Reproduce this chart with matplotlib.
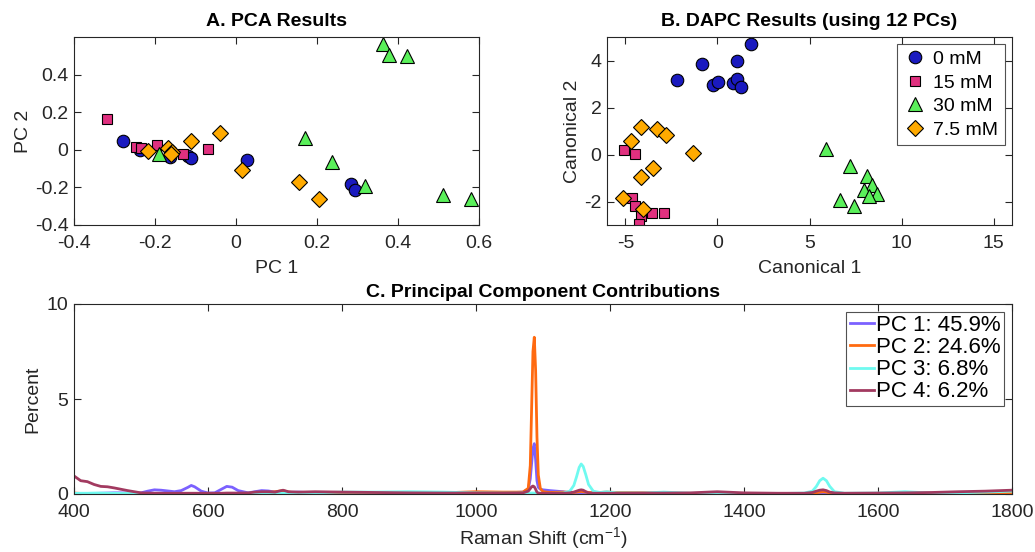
import matplotlib
matplotlib.use("Agg")
import matplotlib.pyplot as plt

plt.rcParams['font.family'] = ['Liberation Sans', 'DejaVu Sans']
plt.rcParams['axes.unicode_minus'] = False
plt.rcParams['mathtext.default'] = 'regular'

# ---------------- Data ----------------
groups = ['0 mM', '15 mM', '30 mM', '7.5 mM']

# Panel A: PCA scores
pca_0_x = [-0.279, -0.236, -0.164, -0.118, -0.111, 0.026, 0.283, 0.294]
pca_0_y = [0.046, -0.002, -0.039, -0.034, -0.042, -0.052, -0.182, -0.216]
pca_15_x = [-0.318, -0.248, -0.234, -0.196, -0.131, -0.070]
pca_15_y = [0.163, 0.014, 0.011, 0.025, -0.025, 0.002]
pca_30_x = [-0.191, 0.171, 0.236, 0.319, 0.362, 0.378, 0.423, 0.511, 0.580]
pca_30_y = [-0.024, 0.064, -0.066, -0.194, 0.562, 0.503, 0.499, -0.240, -0.262]
pca_75_x = [-0.218, -0.168, -0.158, -0.161, -0.110, -0.039, 0.014, 0.156, 0.206]
pca_75_y = [-0.007, 0.011, -0.011, -0.023, 0.048, 0.088, -0.109, -0.171, -0.263]

# Panel B: DAPC scores
dapc_0_x = [-2.22, -0.82, -0.22, 0.02, 0.86, 1.06, 1.06, 1.28, 1.84]
dapc_0_y = [3.19, 3.83, 2.96, 3.10, 3.06, 3.21, 4.00, 2.87, 4.70]
dapc_15_x = [-5.06, -4.48, -4.66, -4.48, -4.17, -4.28, -3.53, -2.93]
dapc_15_y = [0.20, 0.03, -1.83, -2.19, -2.61, -2.96, -2.51, -2.51]
dapc_30_x = [5.90, 7.19, 8.12, 8.40, 8.65, 7.94, 8.25, 6.63, 7.43]
dapc_30_y = [0.25, -0.51, -0.91, -1.28, -1.68, -1.51, -1.78, -1.94, -2.21]
dapc_75_x = [-4.70, -4.13, -3.28, -2.77, -1.35, -3.52, -4.17, -5.14, -4.06]
dapc_75_y = [0.57, 1.17, 1.07, 0.84, 0.07, -0.59, -0.94, -1.83, -2.31]

# Panel C: principal component contributions
raman_shift = [400, 410, 420, 430, 440, 450, 460, 470, 480, 490,
               500, 510, 520, 530, 540, 550, 560, 570, 575, 580,
               590, 600, 610, 620, 628, 636, 645, 660, 670, 680,
               690, 700, 712, 720, 735, 760, 800, 850, 900, 950,
               1000, 1040, 1070, 1078, 1081, 1083, 1085, 1087, 1089, 1091,
               1093, 1096, 1100, 1110, 1130, 1140, 1146, 1150, 1154, 1157,
               1160, 1164, 1168, 1175, 1185, 1195, 1210, 1250, 1280, 1320,
               1360, 1400, 1450, 1490, 1502, 1508, 1513, 1518, 1523, 1528,
               1535, 1550, 1600, 1640, 1680, 1720, 1760, 1800]
pc1 = [0.03, 0.03, 0.02, 0.03, 0.04, 0.05, 0.06, 0.06, 0.05, 0.04,
       0.06, 0.15, 0.22, 0.20, 0.16, 0.12, 0.18, 0.35, 0.45, 0.38,
       0.15, 0.05, 0.06, 0.25, 0.40, 0.36, 0.18, 0.06, 0.12, 0.18,
       0.16, 0.10, 0.06, 0.08, 0.10, 0.05, 0.03, 0.02, 0.02, 0.02,
       0.03, 0.05, 0.10, 0.25, 0.80, 1.60, 2.40, 2.65, 1.80, 0.70,
       0.35, 0.25, 0.22, 0.18, 0.12, 0.05, 0.04, 0.04, 0.04, 0.05,
       0.05, 0.04, 0.03, 0.03, 0.02, 0.02, 0.02, 0.03, 0.03, 0.03,
       0.05, 0.03, 0.02, 0.02, 0.02, 0.03, 0.04, 0.04, 0.04, 0.03,
       0.02, 0.02, 0.02, 0.02, 0.03, 0.05, 0.07, 0.10]
pc2 = [0.05, 0.03, 0.02, 0.02, 0.02, 0.02, 0.02, 0.02, 0.02, 0.02,
       0.01, 0.01, 0.01, 0.01, 0.01, 0.01, 0.01, 0.01, 0.01, 0.01,
       0.01, 0.01, 0.01, 0.01, 0.02, 0.02, 0.02, 0.03, 0.03, 0.05,
       0.08, 0.12, 0.18, 0.10, 0.05, 0.03, 0.02, 0.03, 0.05, 0.06,
       0.12, 0.10, 0.10, 0.30, 1.50, 4.50, 7.50, 8.25, 6.50, 3.00,
       1.00, 0.30, 0.12, 0.08, 0.10, 0.10, 0.08, 0.10, 0.12, 0.14,
       0.12, 0.10, 0.08, 0.07, 0.08, 0.10, 0.08, 0.06, 0.04, 0.03,
       0.02, 0.02, 0.02, 0.02, 0.03, 0.06, 0.10, 0.12, 0.10, 0.05,
       0.02, 0.02, 0.02, 0.02, 0.02, 0.03, 0.04, 0.05]
pc3 = [0.03, 0.04, 0.04, 0.05, 0.05, 0.04, 0.04, 0.03, 0.03, 0.03,
       0.03, 0.03, 0.02, 0.02, 0.02, 0.02, 0.02, 0.02, 0.02, 0.02,
       0.02, 0.02, 0.02, 0.03, 0.03, 0.03, 0.03, 0.04, 0.05, 0.05,
       0.05, 0.04, 0.03, 0.04, 0.05, 0.06, 0.10, 0.10, 0.12, 0.10,
       0.06, 0.05, 0.05, 0.05, 0.05, 0.05, 0.05, 0.05, 0.05, 0.05,
       0.04, 0.04, 0.03, 0.03, 0.05, 0.15, 0.45, 0.90, 1.40, 1.58,
       1.45, 1.00, 0.50, 0.15, 0.08, 0.12, 0.06, 0.05, 0.10, 0.04,
       0.03, 0.02, 0.02, 0.05, 0.15, 0.40, 0.70, 0.83, 0.70, 0.40,
       0.12, 0.04, 0.05, 0.12, 0.05, 0.06, 0.10, 0.15]
pc4 = [0.95, 0.70, 0.65, 0.50, 0.40, 0.38, 0.32, 0.25, 0.18, 0.12,
       0.06, 0.05, 0.04, 0.04, 0.04, 0.04, 0.04, 0.04, 0.04, 0.04,
       0.04, 0.04, 0.04, 0.04, 0.05, 0.05, 0.05, 0.06, 0.10, 0.12,
       0.12, 0.10, 0.20, 0.12, 0.10, 0.12, 0.10, 0.08, 0.06, 0.05,
       0.05, 0.05, 0.06, 0.15, 0.28, 0.38, 0.42, 0.38, 0.25, 0.10,
       0.05, 0.04, 0.04, 0.04, 0.04, 0.06, 0.10, 0.15, 0.20, 0.22,
       0.20, 0.12, 0.06, 0.04, 0.04, 0.04, 0.04, 0.05, 0.05, 0.06,
       0.12, 0.06, 0.04, 0.04, 0.08, 0.15, 0.20, 0.22, 0.18, 0.10,
       0.06, 0.04, 0.05, 0.06, 0.08, 0.12, 0.15, 0.20]
pc_labels = ['PC 1: 45.9%', 'PC 2: 24.6%', 'PC 3: 6.8%', 'PC 4: 6.2%']

# ---------------- Styles ----------------
grp_colors = ['#1A1ABF', '#E0307F', '#5AF05A', '#FFAA00']
grp_markers = ['o', 's', '^', 'D']
grp_sizes = [9.0, 7.0, 9.5, 8.0]
line_colors = ['#7B61FF', '#FF6A10', '#6FFAF0', '#A23A60']
FS = 14
AX_COL = '#262626'

fig = plt.figure(figsize=(10.35, 5.52), dpi=100)


def style_ax(ax):
    for s in ax.spines.values():
        s.set_color(AX_COL)
        s.set_linewidth(0.8)
    ax.tick_params(direction='in', top=True, right=True, length=5, width=0.8,
                   colors=AX_COL, labelsize=FS, labelcolor=AX_COL)
    ax.tick_params(axis='x', pad=7)
    ax.tick_params(axis='y', pad=4)


def scatter_groups(ax, xs, ys):
    handles = []
    for x, y, c, m, ms, lab in zip(xs, ys, grp_colors, grp_markers, grp_sizes, groups):
        h, = ax.plot(x, y, linestyle='none', marker=m, markersize=ms,
                     markerfacecolor=c, markeredgecolor='black',
                     markeredgewidth=0.8, label=lab)
        handles.append(h)
    return handles


# Panel A
axA = fig.add_axes([74/1035, 1-225/552, 405/1035, 188/552])
scatter_groups(axA, [pca_0_x, pca_15_x, pca_30_x, pca_75_x],
               [pca_0_y, pca_15_y, pca_30_y, pca_75_y])
axA.set_xlim(-0.4, 0.6)
axA.set_ylim(-0.4, 0.6)
axA.set_xticks([-0.4, -0.2, 0, 0.2, 0.4, 0.6])
axA.set_xticklabels(['-0.4', '-0.2', '0', '0.2', '0.4', '0.6'])
axA.set_yticks([-0.4, -0.2, 0, 0.2, 0.4])
axA.set_yticklabels(['-0.4', '-0.2', '0', '0.2', '0.4'])
axA.set_xlabel('PC 1', fontsize=FS, color=AX_COL, labelpad=6)
axA.set_ylabel('PC 2', fontsize=FS, color=AX_COL, labelpad=2)
axA.set_title('A. PCA Results', fontsize=FS, fontweight='bold', pad=8)
style_ax(axA)

# Panel B
axB = fig.add_axes([607/1035, 1-225/552, 405/1035, 188/552])
hs = scatter_groups(axB, [dapc_0_x, dapc_15_x, dapc_30_x, dapc_75_x],
                    [dapc_0_y, dapc_15_y, dapc_30_y, dapc_75_y])
axB.set_xlim(-6, 16)
axB.set_ylim(-3, 5)
axB.set_xticks([-5, 0, 5, 10, 15])
axB.set_xticklabels(['-5', '0', '5', '10', '15'])
axB.set_yticks([-2, 0, 2, 4])
axB.set_yticklabels(['-2', '0', '2', '4'])
axB.set_xlabel('Canonical 1', fontsize=FS, color=AX_COL, labelpad=6)
axB.set_ylabel('Canonical 2', fontsize=FS, color=AX_COL, labelpad=2)
axB.set_title('B. DAPC Results (using 12 PCs)', fontsize=FS, fontweight='bold', pad=8)
style_ax(axB)
legB = axB.legend(handles=hs, loc='upper right', fontsize=FS, frameon=True,
                  fancybox=False, edgecolor=AX_COL, borderpad=0.35,
                  labelspacing=0.3, handletextpad=0.4, handlelength=1.1,
                  borderaxespad=0.35)
legB.get_frame().set_linewidth(0.8)

# Panel C
axC = fig.add_axes([74/1035, 1-494/552, 938/1035, 190/552])
for vals, c, lab in zip([pc1, pc2, pc3, pc4], line_colors, pc_labels):
    axC.plot(raman_shift, vals, color=c, linewidth=2.0, label=lab)
axC.set_xlim(400, 1800)
axC.set_ylim(0, 10)
axC.set_xticks([400, 600, 800, 1000, 1200, 1400, 1600, 1800])
axC.set_yticks([0, 5, 10])
axC.set_xlabel('Raman Shift (cm$^{-1}$)', fontsize=FS, color=AX_COL, labelpad=3)
axC.set_ylabel('Percent', fontsize=FS, color=AX_COL, labelpad=4)
axC.set_title('C. Principal Component Contributions', fontsize=FS, fontweight='bold', pad=5)
style_ax(axC)
legC = axC.legend(loc='upper right', fontsize=16, frameon=True, fancybox=False,
                  edgecolor=AX_COL, borderpad=0.15, labelspacing=0.05,
                  handletextpad=0.1, handlelength=1.1, borderaxespad=0.35)
legC.get_frame().set_linewidth(0.8)

fig.savefig('out.png', dpi=100)
